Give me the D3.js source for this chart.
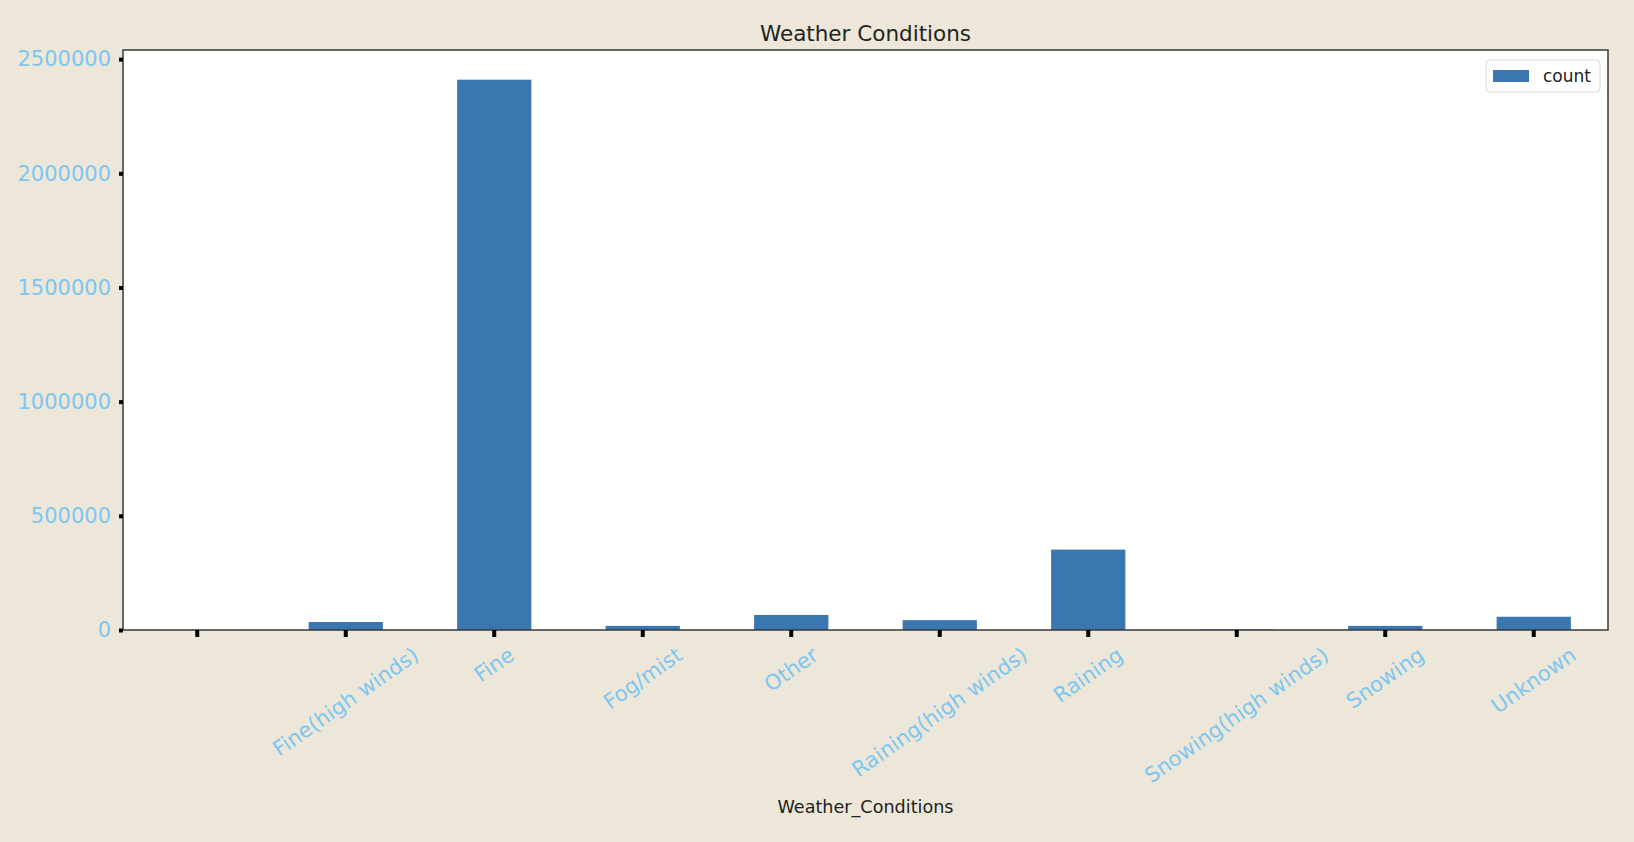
<!DOCTYPE html>
<html><head><meta charset="utf-8">
<script src="https://cdn.jsdelivr.net/npm/d3@7"></script>
<style>
body{margin:0;background:#ece7d8;}
text{font-family:"DejaVu Sans",sans-serif;}
</style>
</head><body>
<svg id="chart" width="1634" height="842"></svg>
<script>
const categories = ["", "Fine(high winds)", "Fine", "Fog/mist", "Other", "Raining(high winds)", "Raining", "Snowing(high winds)", "Snowing", "Unknown"];
const counts = [800, 35000, 2410000, 18000, 66000, 43000, 352000, 2500, 18000, 58000];
const yTicks = [0, 500000, 1000000, 1500000, 2000000, 2500000];
const yMax = 2540000;
const seriesName = "count";
const titleText = "Weather Conditions";
const xLabelText = "Weather_Conditions";

const W = 1634, H = 842;
const m = {left: 123, right: 1608, top: 50, bottom: 630};
const svg = d3.select("#chart");
svg.append("rect").attr("width", W).attr("height", H).attr("fill", "#ece7d8");

const x = d3.scaleBand().domain(categories).range([m.left, m.right]).paddingInner(0.5).paddingOuter(0.25);
const y = d3.scaleLinear().domain([0, yMax]).range([m.bottom, m.top]);

svg.append("rect").attr("x", m.left).attr("y", m.top).attr("width", m.right - m.left).attr("height", m.bottom - m.top).attr("fill", "#ffffff");

svg.append("g").selectAll("rect").data(categories).join("rect")
  .attr("x", d => x(d)).attr("width", x.bandwidth())
  .attr("y", (d, i) => y(counts[i])).attr("height", (d, i) => y(0) - y(counts[i]))
  .attr("fill", "#3a76af");

// frame
svg.append("rect").attr("x", m.left).attr("y", m.top).attr("width", m.right - m.left).attr("height", m.bottom - m.top)
  .attr("fill", "none").attr("stroke", "#3a3a3a").attr("stroke-width", 1.5);

// y axis
const yAxis = d3.axisLeft(y).tickValues(yTicks).tickFormat(d3.format("d")).tickSize(4).tickPadding(8);
const gy = svg.append("g").attr("transform", `translate(${m.left},0)`).call(yAxis);
gy.select(".domain").remove();
gy.selectAll(".tick line").attr("stroke", "#000").attr("stroke-width", 4);
gy.selectAll(".tick text").attr("fill", "#7cc6f1").attr("font-size", 21).attr("font-family", "DejaVu Sans");

// x axis
const xAxis = d3.axisBottom(x).tickSize(7).tickFormat("");
const gx = svg.append("g").attr("transform", `translate(0,${m.bottom})`).call(xAxis);
gx.select(".domain").remove();
gx.selectAll(".tick line").attr("stroke", "#000").attr("stroke-width", 4);

const theta = 35 * Math.PI / 180;
const fs = 21;
const labelTop = m.bottom + 14;
const lbls = svg.append("g");
categories.forEach(c => {
  if (!c) return;
  const cx = x(c) + x.bandwidth() / 2;
  const t = lbls.append("text").text(c)
    .attr("font-size", fs).attr("fill", "#7cc6f1")
    .attr("text-anchor", "middle").attr("dominant-baseline", "central");
  const w = t.node().getComputedTextLength();
  const h = fs * 1.0;
  const bh = w * Math.sin(theta) + h * Math.cos(theta);
  t.attr("transform", `translate(${cx},${labelTop + bh / 2}) rotate(-35)`);
});

// title & x label
svg.append("text").text(titleText).attr("x", (m.left + m.right) / 2).attr("y", 33)
  .attr("text-anchor", "middle").attr("dominant-baseline", "central").attr("font-size", 21.5).attr("fill", "#222");
svg.append("text").text(xLabelText).attr("x", (m.left + m.right) / 2).attr("y", 807)
  .attr("text-anchor", "middle").attr("dominant-baseline", "central").attr("font-size", 17.6).attr("fill", "#222");

// legend
const lg = svg.append("g");
lg.append("rect").attr("x", 1486).attr("y", 60).attr("width", 114).attr("height", 32).attr("rx", 4)
  .attr("fill", "#fff").attr("stroke", "#d8d8d8").attr("stroke-width", 1);
lg.append("rect").attr("x", 1493).attr("y", 70).attr("width", 36).attr("height", 12).attr("fill", "#3a76af");
lg.append("text").text(seriesName).attr("x", 1543).attr("y", 76).attr("dominant-baseline", "central")
  .attr("font-size", 17).attr("fill", "#222");
</script>
</body></html>
